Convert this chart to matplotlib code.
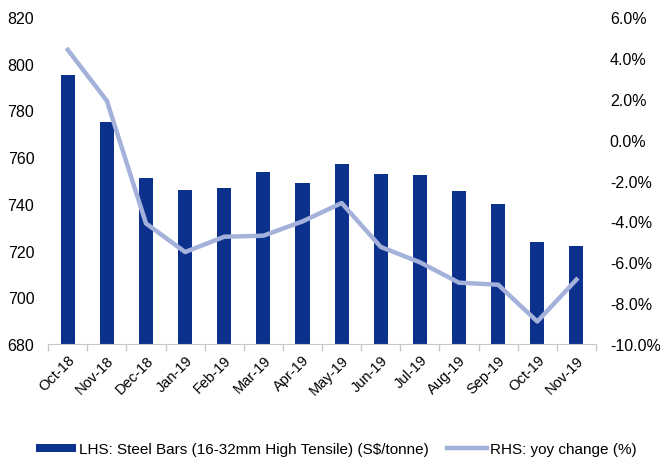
import numpy as np
import matplotlib
matplotlib.use("Agg")
from matplotlib import pyplot as plt
from matplotlib.ticker import FuncFormatter

plt.rcParams['font.family'] = ['Liberation Sans', 'DejaVu Sans']

months = ['Oct-18', 'Nov-18', 'Dec-18', 'Jan-19', 'Feb-19', 'Mar-19', 'Apr-19',
          'May-19', 'Jun-19', 'Jul-19', 'Aug-19', 'Sep-19', 'Oct-19', 'Nov-19']
steel_price = [795, 775, 751, 746, 747, 753.5, 749, 757, 753, 752.5, 745.5, 740, 723.5, 722]
yoy_change = [4.4, 1.9, -4.1, -5.5, -4.75, -4.7, -4.0, -3.1, -5.25, -6.0, -7.0, -7.1, -8.9, -6.85]

bar_color = '#0B318D'
line_color = '#A4B2DB'

fig = plt.figure(figsize=(6.6, 4.64), dpi=100)
ax = fig.add_axes([0.073, 0.2565, 0.83, 0.7045])
x = np.arange(len(months))
bars = ax.bar(x, steel_price, width=0.36, color=bar_color, zorder=2,
              label='LHS: Steel Bars (16-32mm High Tensile) (S$/tonne)')
ax.set_ylim(680, 820)
ax.set_yticks(np.arange(680, 821, 20))
ax.set_xlim(-0.5, len(months) - 0.5)
ax.set_xticks(x)
ax.set_xticklabels(months, rotation=45, ha='right', rotation_mode='anchor')
ax.set_xticks(np.arange(-0.5, len(months), 1), minor=True)
ax.tick_params(axis='x', which='major', length=0, pad=6, labelsize=10.5)
ax.tick_params(axis='x', which='minor', length=5, color='#C8C8C8', width=1)
ax.tick_params(axis='y', length=0, labelsize=11.5, pad=10)
for s in ['top', 'left', 'right']:
    ax.spines[s].set_visible(False)
ax.spines['bottom'].set_color('#C8C8C8')

ax2 = ax.twinx()
line, = ax2.plot(x, yoy_change, color=line_color, lw=3.2, zorder=3,
                 label='RHS: yoy change (%)')
ax2.set_ylim(-10, 6)
ax2.set_yticks(np.arange(-10, 6.1, 2))
ax2.yaxis.set_major_formatter(FuncFormatter(lambda v, p: f'{v:.1f}%'))
ax2.tick_params(axis='y', length=0, labelsize=11.5, pad=10)
for s in ['top', 'left', 'right', 'bottom']:
    ax2.spines[s].set_visible(False)

fig.legend([bars, line], [bars.get_label(), line.get_label()], loc='center',
           bbox_to_anchor=(0.51, 0.03), ncol=2, frameon=False, fontsize=11,
           handlelength=2.6, handleheight=0.45, columnspacing=1.2, handletextpad=0.2)

fig.savefig('out.png', dpi=100)
